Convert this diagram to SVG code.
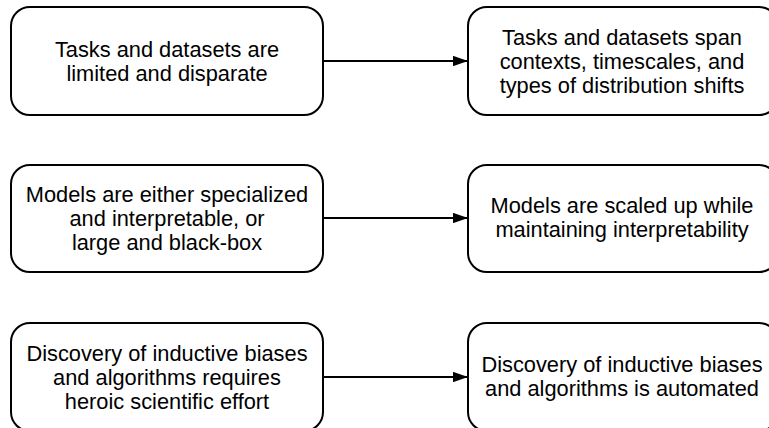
<svg xmlns="http://www.w3.org/2000/svg" width="769" height="428" viewBox="0 0 769 428">
<style>
.box{fill:#fff;stroke:#000;stroke-width:2}
.t{font-family:"Liberation Sans",Arial,Helvetica,sans-serif;font-size:21.8px;fill:#000;text-anchor:middle}
.c{stroke:#000;stroke-width:2;fill:none}
</style>
<defs>
<marker id="ah" markerWidth="7.5" markerHeight="5.2" refX="7.5" refY="2.6" orient="auto" markerUnits="strokeWidth">
<path d="M0,0 L7.5,2.6 L0,5.2 Z" fill="#000"/>
</marker>
</defs>
<rect width="769" height="428" fill="#fff"/>
<g id="connectors">
<line class="c" x1="323" y1="61" x2="468" y2="61" marker-end="url(#ah)"/>
<line class="c" x1="323" y1="218" x2="468" y2="218" marker-end="url(#ah)"/>
<line class="c" x1="323" y1="377" x2="468" y2="377" marker-end="url(#ah)"/>
</g>
<g id="n1">
<rect class="box" x="11" y="7" width="312" height="108" rx="19"/>
<text class="t" x="167" y="57">Tasks and datasets are</text>
<text class="t" x="167" y="81">limited and disparate</text>
</g>
<g id="n2">
<rect class="box" x="468" y="7" width="310" height="108" rx="19"/>
<text class="t" x="622" y="45">Tasks and datasets span</text>
<text class="t" x="622" y="69">contexts, timescales, and</text>
<text class="t" x="622" y="93">types of distribution shifts</text>
</g>
<g id="n3">
<rect class="box" x="11" y="165" width="312" height="107" rx="19"/>
<text class="t" x="167" y="202">Models are either specialized</text>
<text class="t" x="167" y="226">and interpretable, or</text>
<text class="t" x="167" y="250">large and black-box</text>
</g>
<g id="n4">
<rect class="box" x="468" y="165" width="310" height="107" rx="19"/>
<text class="t" x="622" y="213">Models are scaled up while</text>
<text class="t" x="622" y="237">maintaining interpretability</text>
</g>
<g id="n5">
<rect class="box" x="11" y="323" width="312" height="108" rx="19"/>
<text class="t" x="167" y="361">Discovery of inductive biases</text>
<text class="t" x="167" y="385">and algorithms requires</text>
<text class="t" x="167" y="409">heroic scientific effort</text>
</g>
<g id="n6">
<rect class="box" x="468" y="323" width="310" height="108" rx="19"/>
<text class="t" x="622" y="372">Discovery of inductive biases</text>
<text class="t" x="622" y="396">and algorithms is automated</text>
</g>
</svg>
